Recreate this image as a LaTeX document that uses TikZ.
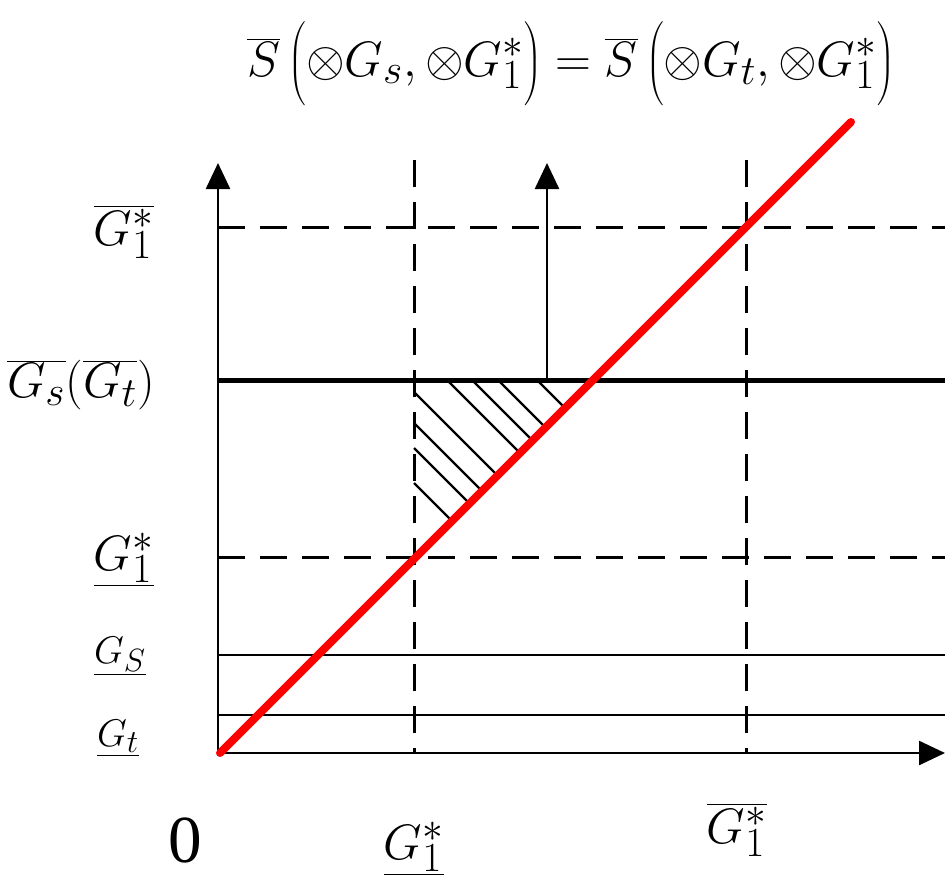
\documentclass[tikz,border=0pt]{standalone}
\usepackage{fontspec}
\setmainfont{Liberation Serif}
\usetikzlibrary{arrows.meta}
\tikzset{
  ax/.style={line width=2.5pt, -{Triangle[length=26pt,width=24pt]}},
  dsh/.style={line width=3pt, dash pattern=on 27pt off 15pt},
  thinln/.style={line width=2.5pt},
  thickln/.style={line width=5pt},
  redln/.style={color=red, line width=8pt, line cap=round},
  hatchln/.style={line width=2.2pt},
  lbl/.style={font=\Huge, scale=2, transform shape, inner sep=0pt},
  lbls/.style={font=\Huge, scale=1.55, transform shape, inner sep=0pt},
  lblz/.style={font=\Huge, scale=2.7, transform shape, inner sep=0pt},
}
\begin{document}
\begin{tikzpicture}[x=1pt,y=-1pt]
\path[use as bounding box] (0,0) rectangle (950,887);
% key points
\coordinate (O) at (218,753);
\coordinate (Ytip) at (218,163);
\coordinate (Xtip) at (945,753);
\coordinate (V1t) at (414,160);
\coordinate (V1b) at (414,753);
\coordinate (V2t) at (746,160);
\coordinate (V2b) at (746,753);
\coordinate (Hu0) at (218,227);
\coordinate (Hu1) at (945,227);
\coordinate (Hs0) at (218,380);
\coordinate (Hs1) at (945,380);
\coordinate (Hl0) at (218,557);
\coordinate (Hl1) at (945,557);
\coordinate (Ha0) at (218,655);
\coordinate (Ha1) at (945,655);
\coordinate (Hb0) at (218,715);
\coordinate (Hb1) at (945,715);
\coordinate (Ab) at (547,380);
\coordinate (At) at (547,163);
\coordinate (R0) at (220,753);
\coordinate (R1) at (851,122);
% hatch start / end points
\coordinate (h1a) at (414,483); \coordinate (h1b) at (452,521);
\coordinate (h2a) at (414,448); \coordinate (h2b) at (469.5,503.5);
\coordinate (h3a) at (414,423); \coordinate (h3b) at (482,491);
\coordinate (h4a) at (414,392); \coordinate (h4b) at (497.5,475.5);
\coordinate (h5a) at (447,380); \coordinate (h5b) at (520,453);
\coordinate (h6a) at (472,380); \coordinate (h6b) at (532.5,440.5);
\coordinate (h7a) at (498,380); \coordinate (h7b) at (545.5,427.5);
\coordinate (h8a) at (537,380); \coordinate (h8b) at (565,408);
% grid lines
\draw[dsh] (V1t) -- (V1b);
\draw[dsh] (V2t) -- (V2b);
\draw[dsh] (Hu0) -- (Hu1);
\draw[dsh] (Hl0) -- (Hl1);
\draw[thinln] (Ha0) -- (Ha1);
\draw[thinln] (Hb0) -- (Hb1);
\draw[thickln] (Hs0) -- (Hs1);
% hatching
\foreach \i in {1,...,8} { \draw[hatchln] (h\i a) -- (h\i b); }
% arrows
\draw[ax] (Ab) -- (At);
\draw[ax] (O) -- (Ytip);
\draw[ax] (O) -- (Xtip);
% red line
\draw[redln] (R0) -- (R1);
% labels
\node[lbl, anchor=base] (title) at (571,76) {$\overline{S}\left(\otimes G_s,\otimes G_1^{*}\rule[-17pt]{0pt}{44pt}\right)=\overline{S}\left(\otimes G_t,\otimes G_1^{*}\rule[-17pt]{0pt}{44pt}\right)$};
\node[lbl] (l1) at (124,232) {$\overline{G_1^{*}}$};
\node[lbl] (l2) at (81,385) {$\overline{G_s}(\overline{G_t})$};
\node[lbl] (l3) at (124,560) {$\underline{G_1^{*}}$};
\node[lbls] (l4) at (120,656) {$\underline{G_S}$};
\node[lbls] (l5) at (118,738) {$\underline{G_t}$};
\node[lblz] (zero) at (185,840) {0};
\node[lbl] (b1) at (414,849) {$\underline{G_1^{*}}$};
\node[lbl] (b2) at (737,830) {$\overline{G_1^{*}}$};
\end{tikzpicture}
\end{document}
